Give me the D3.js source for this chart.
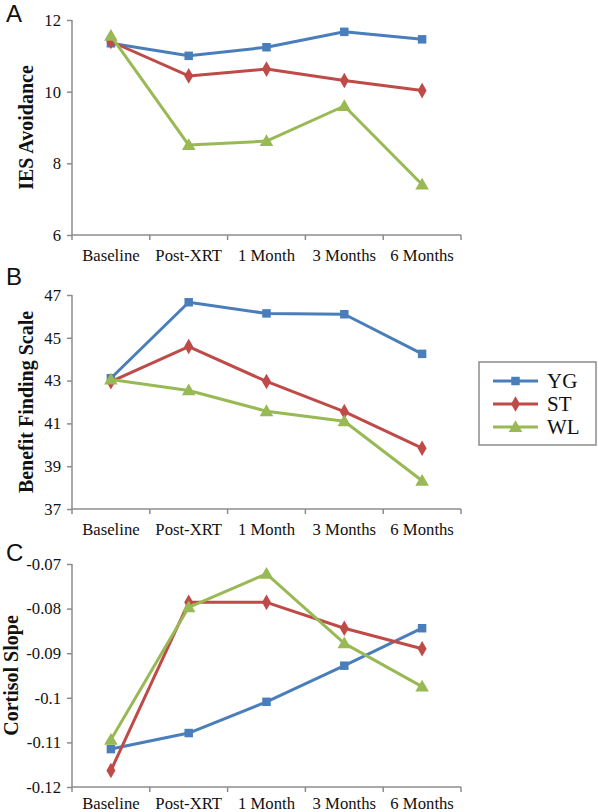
<!DOCTYPE html>
<html><head><meta charset="utf-8">
<script src="https://cdn.jsdelivr.net/npm/d3@7"></script>
<style>html,body{margin:0;padding:0;background:#fff;}</style>
</head><body>
<script>
const categories = ["Baseline","Post-XRT","1 Month","3 Months","6 Months"];
const seriesNames = ["YG","ST","WL"];
const colors = ["#4A7EBB","#BE4B48","#98B954"];

const ies_YG = [11.35, 11.0, 11.24, 11.67, 11.46];
const ies_ST = [11.4, 10.44, 10.63, 10.31, 10.03];
const ies_WL = [11.56, 8.51, 8.62, 9.6, 7.41];
const iesTicks = [6, 8, 10, 12];

const bfs_YG = [43.11, 46.66, 46.14, 46.1, 44.25];
const bfs_ST = [42.95, 44.59, 42.96, 41.55, 39.84];
const bfs_WL = [43.05, 42.54, 41.57, 41.1, 38.32];
const bfsTicks = [37, 39, 41, 43, 45, 47];

const cort_YG = [-0.1115, -0.1079, -0.1009, -0.0928, -0.0844];
const cort_ST = [-0.1163, -0.0786, -0.0786, -0.0844, -0.089];
const cort_WL = [-0.1094, -0.0797, -0.0722, -0.0878, -0.0975];
const cortTicks = [-0.12, -0.11, -0.1, -0.09, -0.08, -0.07];
const cortTickLabels = ["-0.12", "-0.11", "-0.1", "-0.09", "-0.08", "-0.07"];

const W = 598, H = 812;
const svg = d3.select("body").append("svg").attr("width", W).attr("height", H);
const axisColor = "#8c8c8c";
const serif = "'Liberation Serif','Times New Roman',serif";

const panels = [
  {letter:"A", letterY:22, top:20, bottom:235, domain:[6,12], ticks:iesTicks, labels:iesTicks.map(String),
   title:"IES Avoidance", titleX:33, pad:14, data:[ies_YG, ies_ST, ies_WL]},
  {letter:"B", letterY:285, top:295, bottom:509, domain:[37,47], ticks:bfsTicks, labels:bfsTicks.map(String),
   title:"Benefit Finding Scale", titleX:33, pad:14, data:[bfs_YG, bfs_ST, bfs_WL]},
  {letter:"C", letterY:561, top:564, bottom:787, domain:[-0.12,-0.07], ticks:cortTicks, labels:cortTickLabels,
   title:"Cortisol Slope", titleX:18, pad:10, data:[cort_YG, cort_ST, cort_WL]}
];

const x = d3.scaleBand().domain(categories).range([72, 461]);

const symbols = [d3.symbolSquare, d3.symbolDiamond, d3.symbolTriangle];
const symSizes = [72, 70, 80];

panels.forEach(p => {
  const y = d3.scaleLinear().domain(p.domain).range([p.bottom, p.top]);
  const g = svg.append("g");

  const ya = g.append("g").attr("transform", "translate(72,0)")
    .call(d3.axisLeft(y).tickValues(p.ticks).tickFormat((d,i)=>p.labels[i]).tickSize(5).tickPadding(6));
  const xa = g.append("g").attr("transform", `translate(0,${p.bottom})`)
    .call(d3.axisBottom(x).tickSize(0).tickPadding(p.pad));
  const bounds = categories.map(c => x(c)).concat([x(categories[categories.length-1]) + x.bandwidth()]);
  g.selectAll(".bt").data(bounds).join("line")
    .attr("x1", d=>d).attr("x2", d=>d).attr("y1", p.bottom).attr("y2", p.bottom+5)
    .attr("stroke", axisColor).attr("stroke-width", 1.5);

  [ya, xa].forEach(a => {
    a.selectAll(".domain").attr("stroke", axisColor).attr("stroke-width", 1.5);
    a.selectAll(".tick line").attr("stroke", axisColor).attr("stroke-width", 1.5);
    a.selectAll("text").attr("font-family", serif).attr("font-size", 16.7).attr("fill", "#111");
  });
  ya.select(".domain").attr("d", `M0,${p.top}V${p.bottom}`);
  xa.select(".domain").attr("d", `M72,0H461`);

  g.append("text")
    .attr("transform", `translate(${p.titleX},${(p.top+p.bottom)/2}) rotate(-90)`)
    .attr("text-anchor","middle")
    .attr("font-family", serif).attr("font-weight","bold").attr("font-size", 20)
    .attr("fill","#111").text(p.title);

  g.append("text").attr("x", 6).attr("y", p.letterY)
    .attr("font-family","'Liberation Sans',Arial,sans-serif").attr("font-size", 24)
    .attr("fill","#111").text(p.letter);

  const line = d3.line().x((d,i)=>x(categories[i]) + x.bandwidth()/2).y(d=>y(d));
  p.data.forEach((vals, si) => {
    g.append("path").datum(vals).attr("d", line)
      .attr("fill","none").attr("stroke", colors[si]).attr("stroke-width", 3)
      .attr("stroke-linejoin","round");
    g.selectAll(null).data(vals).join("path")
      .attr("transform", (d,i)=>`translate(${x(categories[i]) + x.bandwidth()/2},${y(d) + (si===2?1:0)})`)
      .attr("d", d3.symbol().type(symbols[si]).size(symSizes[si]))
      .attr("fill", colors[si]);
  });
});

const lg = svg.append("g");
lg.append("rect").attr("x", 479).attr("y", 362).attr("width", 117).attr("height", 83)
  .attr("fill","#fff").attr("stroke","#8c8c8c").attr("stroke-width",1.5);
const legY = d3.scalePoint().domain(seriesNames).range([381, 427]);
seriesNames.forEach((s, si) => {
  const yy = legY(s);
  lg.append("line").attr("x1",493).attr("x2",538).attr("y1",yy).attr("y2",yy)
    .attr("stroke",colors[si]).attr("stroke-width",3);
  lg.append("path").attr("transform",`translate(515.5,${yy + (si===2?1:0)})`)
    .attr("d", d3.symbol().type(symbols[si]).size(symSizes[si])).attr("fill",colors[si]);
  lg.append("text").attr("x",547).attr("y",yy+7).attr("font-family",serif).attr("font-size",21)
    .attr("fill","#111").text(s);
});
</script>
</body></html>
